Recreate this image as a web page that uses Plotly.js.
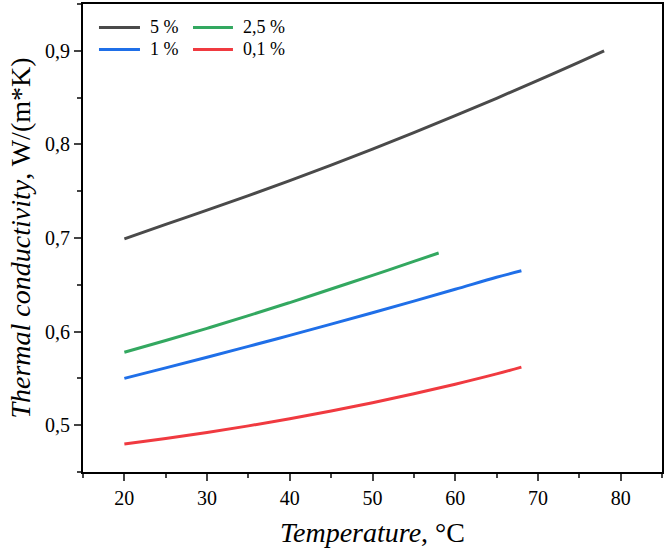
<!DOCTYPE html>
<html>
<head>
<meta charset="utf-8">
<script src="https://cdn.plot.ly/plotly-3.0.1.min.js"></script>
<style>html,body{margin:0;padding:0;background:#fff}#chart{width:667px;height:556px}</style>
</head>
<body>
<div id="chart"></div>
<script>
const seriesNames = ['5 %', '2,5 %', '1 %', '0,1 %'];
const seriesColors = ['#4a4a4a', '#33a860', '#1f6fe8', '#f03a40'];
const tempBlack = [20, 25, 30, 35, 40, 45, 50, 55, 60, 65, 70, 75, 78];
const condBlack = [0.699, 0.7146, 0.7297, 0.7452, 0.7613, 0.7779, 0.795, 0.8126, 0.8307, 0.8493, 0.8684, 0.888, 0.900];
const tempGreen = [20, 25, 30, 35, 40, 45, 50, 55, 58];
const condGreen = [0.578, 0.5905, 0.6035, 0.617, 0.631, 0.6455, 0.660, 0.675, 0.684];
const tempBlue = [20, 25, 30, 35, 40, 45, 50, 55, 60, 65, 68];
const condBlue = [0.550, 0.5612, 0.5726, 0.5842, 0.5960, 0.6080, 0.6202, 0.6326, 0.6452, 0.6580, 0.665];
const tempRed = [20, 25, 30, 35, 40, 45, 50, 55, 60, 65, 68];
const condRed = [0.480, 0.4858, 0.4922, 0.4993, 0.5069, 0.5151, 0.5240, 0.5336, 0.5438, 0.5548, 0.562];
const xTicks = [20, 30, 40, 50, 60, 70, 80];
const yTicks = [0.5, 0.6, 0.7, 0.8, 0.9];

const xs = [tempBlack, tempGreen, tempBlue, tempRed];
const ys = [condBlack, condGreen, condBlue, condRed];
const traces = xs.map((x, i) => ({
  x: x, y: ys[i], type: 'scatter', mode: 'lines', name: seriesNames[i],
  line: {color: seriesColors[i], width: 3, shape: 'spline'},
  showlegend: false
}));

const fam = "'Liberation Serif', 'Times New Roman', Times, serif";

const legCols = [[0.0276, 0.0984, 0.112], [0.19, 0.259, 0.273]];
const legRows = [0.950, 0.903];
const legOrder = [[0, 1], [2, 3]];
const shapes = [], annotations = [];
legOrder.forEach((row, r) => row.forEach((si, c) => {
  shapes.push({type: 'line', xref: 'paper', yref: 'paper', x0: legCols[c][0], x1: legCols[c][1],
    y0: legRows[r], y1: legRows[r], line: {color: seriesColors[si], width: 3}});
  annotations.push({xref: 'paper', yref: 'paper', x: legCols[c][2], y: legRows[r], xanchor: 'left', yanchor: 'middle',
    text: seriesNames[si], showarrow: false, font: {family: fam, size: 18, color: '#000'}});
}));

const layout = {
  width: 667, height: 556,
  margin: {l: 83, r: 5, t: 4, b: 84},
  separators: ', ',
  paper_bgcolor: '#fff', plot_bgcolor: '#fff',
  font: {family: fam, size: 20, color: '#000'},
  showlegend: false,
  shapes: shapes, annotations: annotations,
  xaxis: {
    range: [15, 85], tickvals: xTicks, ticks: 'outside', ticklen: 7, tickwidth: 2,
    showline: true, linewidth: 2, linecolor: '#000', mirror: true, showgrid: false, zeroline: false,
    minor: {dtick: 5, tick0: 15, ticks: 'outside', ticklen: 4, tickwidth: 2, showgrid: false},
    tickfont: {size: 20, family: fam},
    title: {text: '<i>Temperature</i>, °C', font: {size: 28, family: fam}, standoff: 14}
  },
  yaxis: {
    range: [0.45, 0.95], tickvals: yTicks, tickformat: '.1f', ticks: 'outside', ticklen: 7, tickwidth: 2,
    showline: true, linewidth: 2, linecolor: '#000', mirror: true, showgrid: false, zeroline: false,
    minor: {dtick: 0.05, tick0: 0.45, ticks: 'outside', ticklen: 4, tickwidth: 2, showgrid: false},
    tickfont: {size: 20, family: fam},
    title: {text: '<i>Thermal conductivity</i>, W/(m*K)', font: {size: 28, family: fam}, standoff: 6}
  }
};
Plotly.newPlot('chart', traces, layout, {displayModeBar: false, staticPlot: true});
</script>
</body>
</html>
